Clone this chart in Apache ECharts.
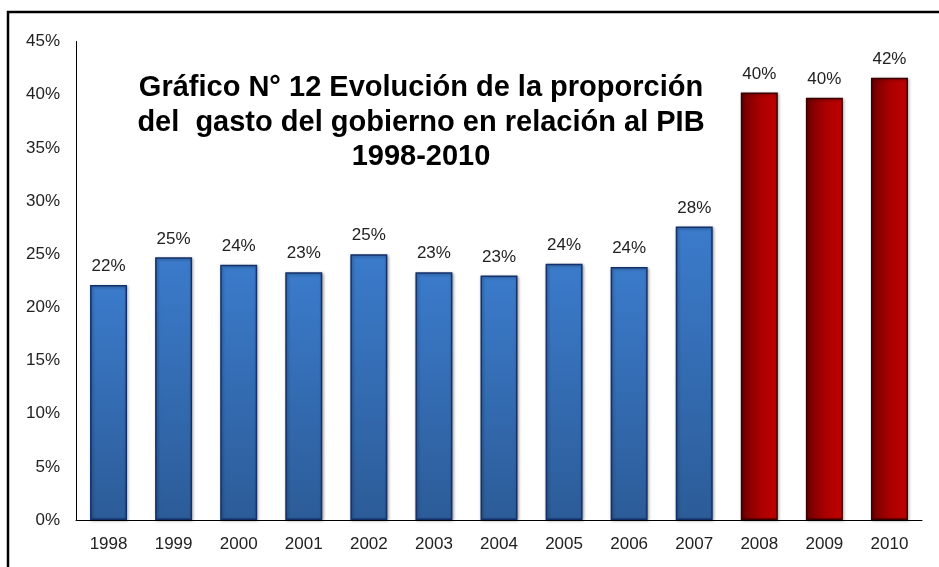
<!DOCTYPE html>
<html>
<head>
<meta charset="utf-8">
<script src="https://cdn.jsdelivr.net/npm/echarts@6/dist/echarts.min.js"></script>
<style>
  html, body { margin: 0; padding: 0; background: #fff; }
  #chart { width: 939px; height: 567px; }
</style>
</head>
<body>
<div id="chart"></div>
<script>
var years = ["1998", "1999", "2000", "2001", "2002", "2003", "2004", "2005", "2006", "2007", "2008", "2009", "2010"];
var gasto = [22.1, 24.7, 24.0, 23.3, 25.0, 23.3, 23.0, 24.1, 23.8, 27.6, 40.2, 39.7, 41.6];
// last three years drawn in red
var highlight = [false, false, false, false, false, false, false, false, false, false, true, true, true];

var blueFill = new echarts.graphic.LinearGradient(0, 0, 0, 1, [
    { offset: 0, color: "#3b7bcb" },
    { offset: 1, color: "#2c5c98" }
]);
var redFill = new echarts.graphic.LinearGradient(0, 0, 1, 0, [
    { offset: 0, color: "#6e0000" },
    { offset: 0.5, color: "#a80000" },
    { offset: 1, color: "#c40000" }
]);

var barData = gasto.map(function (v, i) {
    return {
        value: v,
        itemStyle: highlight[i]
            ? { color: redFill, borderColor: "#3a0000" }
            : { color: blueFill, borderColor: "#13306a" }
    };
});

var labelFont = "'Liberation Sans', Arial, sans-serif";

var dom = document.getElementById("chart");
var myChart = echarts.init(dom);
var option = {
    backgroundColor: "#fff",
    animation: false,
    graphic: [
        {
            type: "rect",
            shape: { x: 8, y: 12, width: 940, height: 600 },
            style: { fill: null, stroke: "#000", lineWidth: 2.5 },
            z: 100
        },
        {
            type: "text",
            x: 421,
            y: 71,
            style: {
                text: "Gráfico N° 12 Evolución de la proporción\ndel  gasto del gobierno en relación al PIB\n1998-2010",
                align: "center",
                verticalAlign: "top",
                font: "bold 29px 'Liberation Sans', Arial, sans-serif",
                lineHeight: 34.5,
                fill: "#000"
            },
            z: 50
        }
    ],
    grid: { left: 76, right: 17, top: 41.5, bottom: 47, containLabel: false },
    xAxis: {
        type: "category",
        data: years,
        axisLine: { lineStyle: { color: "#000", width: 1 } },
        axisTick: { show: false },
        axisLabel: {
            color: "#222",
            fontSize: 17,
            fontFamily: labelFont,
            margin: 16
        }
    },
    yAxis: {
        type: "value",
        min: 0,
        max: 45,
        interval: 5,
        axisLine: { show: true, lineStyle: { color: "#000", width: 1 } },
        axisTick: { show: false },
        splitLine: { show: false },
        axisLabel: {
            color: "#222",
            fontSize: 17,
            fontFamily: labelFont,
            margin: 16,
            formatter: "{value}%"
        }
    },
    series: [
        {
            type: "bar",
            data: barData,
            barWidth: 37,
            itemStyle: {
                borderWidth: 1.5,
                shadowColor: "rgba(0,0,0,0.35)",
                shadowBlur: 3,
                shadowOffsetX: 1,
                shadowOffsetY: 1
            },
            label: {
                show: true,
                position: "top",
                distance: 10,
                color: "#222",
                fontSize: 17,
                fontFamily: labelFont,
                formatter: function (p) { return Math.round(p.value) + "%"; }
            }
        }
    ]
};
if (option && typeof option === "object") {
    myChart.setOption(option, true);
}
</script>
</body>
</html>
